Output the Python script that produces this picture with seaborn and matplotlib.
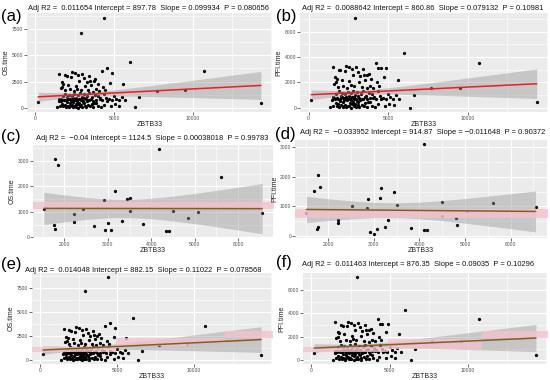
import numpy as np
import pandas as pd
import matplotlib
matplotlib.use("Agg")
import matplotlib.pyplot as plt
import seaborn as sns
from matplotlib.ticker import FixedLocator, MultipleLocator

# ---------------- data ----------------
# TCGA cohort: ZBTB33 expression vs OS / PFI time
zbtb_low = [1350,1480,1560,1620,1700,1760,1820,1880,1930,1990,2040,2090,2140,2190,2230,
            2280,2320,2370,2410,2460,2500,2550,2590,2640,2690,2730,2780,2830,2880,2920,
            2970,3020,3080,3140,3190,3260,3330,3410,3490,3570,3660,3750,3850,3960,4080,
            4200,4350,4560,4790,5060,5350]
os_low = [60,650,180,820,350,130,720,300,90,560,200,880,40,430,150,780,260,70,590,180,
          740,110,410,650,30,320,500,140,860,280,90,550,470,190,60,620,240,710,130,370,
          80,500,450,160,820,40,280,680,150,330,200]
pfi_low = [60,620,180,800,350,130,700,300,90,540,200,860,40,430,150,760,260,70,590,180,
           720,110,410,630,30,320,500,140,840,280,90,550,470,190,60,600,240,690,130,370,
           80,500,450,160,800,40,280,660,150,330,200]

zbtb_mid = [1520,1640,1730,1810,1900,1960,2020,2110,2170,2240,2300,2360,2430,2480,2560,
            2620,2680,2750,2810,2870,2940,3000,3060,3120,3200,3280,3350,3440,3520,3600,
            3690,3780,3880,3990,4110,4240,4380,4520,4680,4850,5000,5150,5320,5500,5700]
os_mid = [870,680,1150,780,1350,720,1000,1250,820,660,1100,920,720,1300,960,700,
          1200,850,1400,760,1050,680,1270,940,800,1130,730,1370,870,1000,690,1230,
          780,1100,910,740,1330,980,830,710,1150,870,760,1050,730]
pfi_mid = [830,660,1100,760,1300,690,960,1200,780,640,1060,880,690,1260,920,670,
           1160,820,1350,730,1010,660,1230,910,770,1090,700,1330,840,960,670,1190,
           750,1060,880,710,1290,950,800,690,1110,840,730,1010,700]

zbtb_high = [1510,1600,1680,1720,1780,1850,1890,2000,2100,2190,2260,2350,2440,2520,2570,
             2650,2720,2800,2880,2990,3080,3150,3250,3330,3420,3460,3560,3650,3700,3800,
             3870,3950,4050,4230,4330,4450,4530,4760,4880,5600]
os_high = [3250,1900,2450,2000,2300,1650,3100,3000,2200,1750,2900,3400,1600,3300,2100,
           1800,3100,2600,1700,3250,2850,2050,2500,1650,3050,2600,2200,1550,2550,2700,
           1750,2300,1600,3500,2000,1700,3800,2400,3300,2250]
pfi_high = [3250,1900,2450,2000,2300,1650,3000,2950,2200,1750,2900,3300,1600,3200,2100,
            1800,3050,2600,1700,3200,2850,2050,2500,1650,3050,2600,2200,1550,2550,2700,
            1750,2300,1600,3500,2000,1700,3110,2400,3100,2200]

zbtb_out = [170,2930,4370,6010,10720,14350,7710,9530,6350,6600]
os_out = [600,7130,8600,4330,3530,500,1600,1650,50,1000]
pfi_out = [580,7100,3100,4300,3530,480,1600,1600,30,990]

zbtb33 = zbtb_low + zbtb_mid + zbtb_high + zbtb_out
os_time = os_low + os_mid + os_high + os_out
pfi_time = pfi_low + pfi_mid + pfi_high + pfi_out

# small validation cohort (panels c, d)
zbtb_c = [1526,1774,1842,1752,1789,2210,2226,2429,2677,2917,2925,3015,3068,3173,3331,
          3451,3511,3511,3820,4180,4331,4406,4511,4850,5068,5617,6556]
os_c = [1100,3066,2860,466,336,918,582,1113,440,1462,272,556,272,1811,647,1514,1565,
        1035,530,3467,246,233,1035,763,996,2367,970]
zbtb_d = [1519,1692,1774,1827,1752,1782,2203,2218,2519,2850,2872,2917,3000,3060,3128,
          3165,3248,3316,3444,3511,3812,4090,4090,4160,4496,4496,4812,4827,5053,5617,6549]
pfi_d = [785,1512,2052,1641,234,305,551,434,1008,961,1243,141,82,246,1301,1618,305,551,
         1500,1032,258,3095,199,211,1137,692,598,387,856,1125,973]

titles = [
    "Adj R2 =  0.011654 Intercept = 897.78  Slope = 0.099934  P = 0.080656",
    "Adj R2 =  0.0088642 Intercept = 860.86  Slope = 0.079132  P = 0.10981",
    "Adj R2 =  \u22120.04 Intercept = 1124.5  Slope = 0.00038018  P = 0.99783",
    "Adj R2 =  \u22120.033952 Intercept = 914.87  Slope = \u22120.011648  P = 0.90372",
    "Adj R2 =  0.014048 Intercept = 882.15  Slope = 0.11022  P = 0.078568",
    "Adj R2 =  0.011463 Intercept = 876.35  Slope = 0.09035  P = 0.10296",
]
letters = ["(a)", "(b)", "(c)", "(d)", "(e)", "(f)"]

xticks_big = [0, 5000, 10000]
xticks_small = [2000, 3000, 4000, 5000, 6000]
yticks_os = [0, 2500, 5000, 7500]
yticks_pfi = [0, 2000, 4000, 6000]
yticks_small = [0, 1000, 2000, 3000]

# pink overlay bands (stepwise: edges, lower, upper)
pink_c = ([1250, 6850], [1110], [1400])
pink_d = ([1250, 6850], [620], [900])
pink_e = ([-800, 4900, 9700, 12000, 15200], [850, 1500, 1750, 2250], [1350, 2300, 2300, 3000])
pink_f = ([-800, 4900, 10900, 15200], [700, 1000, 1930], [1100, 1800, 2480])

# ---------------- style ----------------
sns.set_theme(style="darkgrid", rc={
    "axes.facecolor": "#EBEBEB",
    "grid.color": "white",
    "axes.edgecolor": "#EBEBEB",
})
plt.rcParams["font.family"] = ["Liberation Sans", "DejaVu Sans"]

W, H = 550, 380
fig = plt.figure(figsize=(W / 100, H / 100), dpi=100)
fig.patch.set_facecolor("white")

RED = "#EE1C25"
BROWN = "#8A5A24"
PINK = "#F3C3CE"


def lm_band(x, y, n_grid=80):
    """95% confidence band of an ordinary least-squares fit (as geom_smooth(method='lm'))."""
    x = np.asarray(x, float)
    y = np.asarray(y, float)
    n = len(x)
    b1, b0 = np.polyfit(x, y, 1)
    resid = y - (b0 + b1 * x)
    s = np.sqrt(np.sum(resid ** 2) / (n - 2))
    sxx = np.sum((x - x.mean()) ** 2)
    xs = np.linspace(x.min(), x.max(), n_grid)
    se = s * np.sqrt(1.0 / n + (xs - x.mean()) ** 2 / sxx)
    tval = 1.96 + 2.5 / (n - 2)
    fit = b0 + b1 * xs
    return xs, fit - tval * se, fit + tval * se


panels = [
    dict(box=(27, 13, 272, 112), x=zbtb33, y=os_time, ylab="OS.time", xt=xticks_big, yt=yticks_os,
         line=RED, pink=None, title_xy=(28, 10.5), let_xy=(1, 17)),
    dict(box=(300, 13, 548, 112), x=zbtb33, y=pfi_time, ylab="PFI.time", xt=xticks_big, yt=yticks_pfi,
         line=RED, pink=None, title_xy=(302, 10.5), let_xy=(276, 17)),
    dict(box=(33, 145, 273, 238), x=zbtb_c, y=os_c, ylab="OS.time", xt=xticks_small, yt=yticks_small,
         line=BROWN, pink=pink_c, title_xy=(36, 140), let_xy=(1, 136)),
    dict(box=(295, 140, 547, 238), x=zbtb_d, y=pfi_d, ylab="PFI.time", xt=xticks_small, yt=yticks_small,
         line=BROWN, pink=pink_d, title_xy=(300, 134), let_xy=(275, 135)),
    dict(box=(32, 273, 272, 364), x=zbtb33, y=os_time, ylab="OS.time", xt=xticks_big, yt=yticks_os,
         line=BROWN, pink=pink_e, title_xy=(25, 271.5), let_xy=(1, 265)),
    dict(box=(303, 273, 547, 364), x=zbtb33, y=pfi_time, ylab="PFI.time", xt=xticks_big, yt=yticks_pfi,
         line=BROWN, pink=pink_f, title_xy=(302, 266.5), let_xy=(276, 263)),
]

for i, p in enumerate(panels):
    l, t, r, b = p["box"]
    ax = fig.add_axes([l / W, 1 - b / H, (r - l) / W, (b - t) / H])
    df = pd.DataFrame({"ZBTB33": p["x"], "Y": p["y"]})
    sns.regplot(data=df, x="ZBTB33", y="Y", ax=ax, ci=None, color=p["line"],
                scatter_kws=dict(s=5.5, color="black", linewidths=0, zorder=2, alpha=1),
                line_kws=dict(lw=1.1, color=p["line"], zorder=5))
    xs, lo, hi = lm_band(p["x"], p["y"])
    ax.fill_between(xs, lo, hi, color="#999999", alpha=0.45, lw=0, zorder=3)
    if p["pink"] is not None:
        edges, plo, phi = p["pink"]
        ex = np.array(edges, dtype=float)
        plo2 = np.append(plo, plo[-1])
        phi2 = np.append(phi, phi[-1])
        ax.fill_between(ex, plo2, phi2, step="post", color=PINK, lw=0, zorder=4, alpha=0.8)
    # ggplot-like 5% expansion around data and ribbon
    span = max(p["x"]) - min(p["x"])
    ax.set_xlim(min(p["x"]) - 0.05 * span, max(p["x"]) + 0.05 * span)
    ymin = min(min(p["y"]), lo.min())
    ymax = max(max(p["y"]), hi.max())
    ys = ymax - ymin
    ax.set_ylim(ymin - 0.05 * ys, ymax + 0.05 * ys)
    ax.xaxis.set_major_locator(FixedLocator(p["xt"]))
    ax.yaxis.set_major_locator(FixedLocator(p["yt"]))
    ax.xaxis.set_minor_locator(MultipleLocator((p["xt"][1] - p["xt"][0]) / 2))
    ax.yaxis.set_minor_locator(MultipleLocator((p["yt"][1] - p["yt"][0]) / 2))
    ax.grid(which="major", color="white", lw=0.8)
    ax.grid(which="minor", color="white", lw=0.4)
    ax.set_axisbelow(True)
    for s in ax.spines.values():
        s.set_visible(False)
    ax.tick_params(which="major", length=2, width=0.5, color="#333333", pad=0.6,
                   labelsize=3.6, labelcolor="#4D4D4D", bottom=True, left=True)
    ax.tick_params(which="minor", length=0)
    ax.set_xlabel("ZBTB33", fontsize=5, color="#222222", labelpad=0.6)
    ax.set_ylabel(p["ylab"], fontsize=5, color="#222222", labelpad=1.5)
    tx, ty = p["title_xy"]
    fig.text(tx / W, 1 - ty / H, titles[i], fontsize=5.45, color="#111111",
             ha="left", va="baseline")
    lx, ly = p["let_xy"]
    fig.text(lx / W, 1 - ly / H, letters[i], fontsize=12, color="black",
             ha="left", va="center")

fig.savefig("out.png", dpi=100, facecolor="white")
